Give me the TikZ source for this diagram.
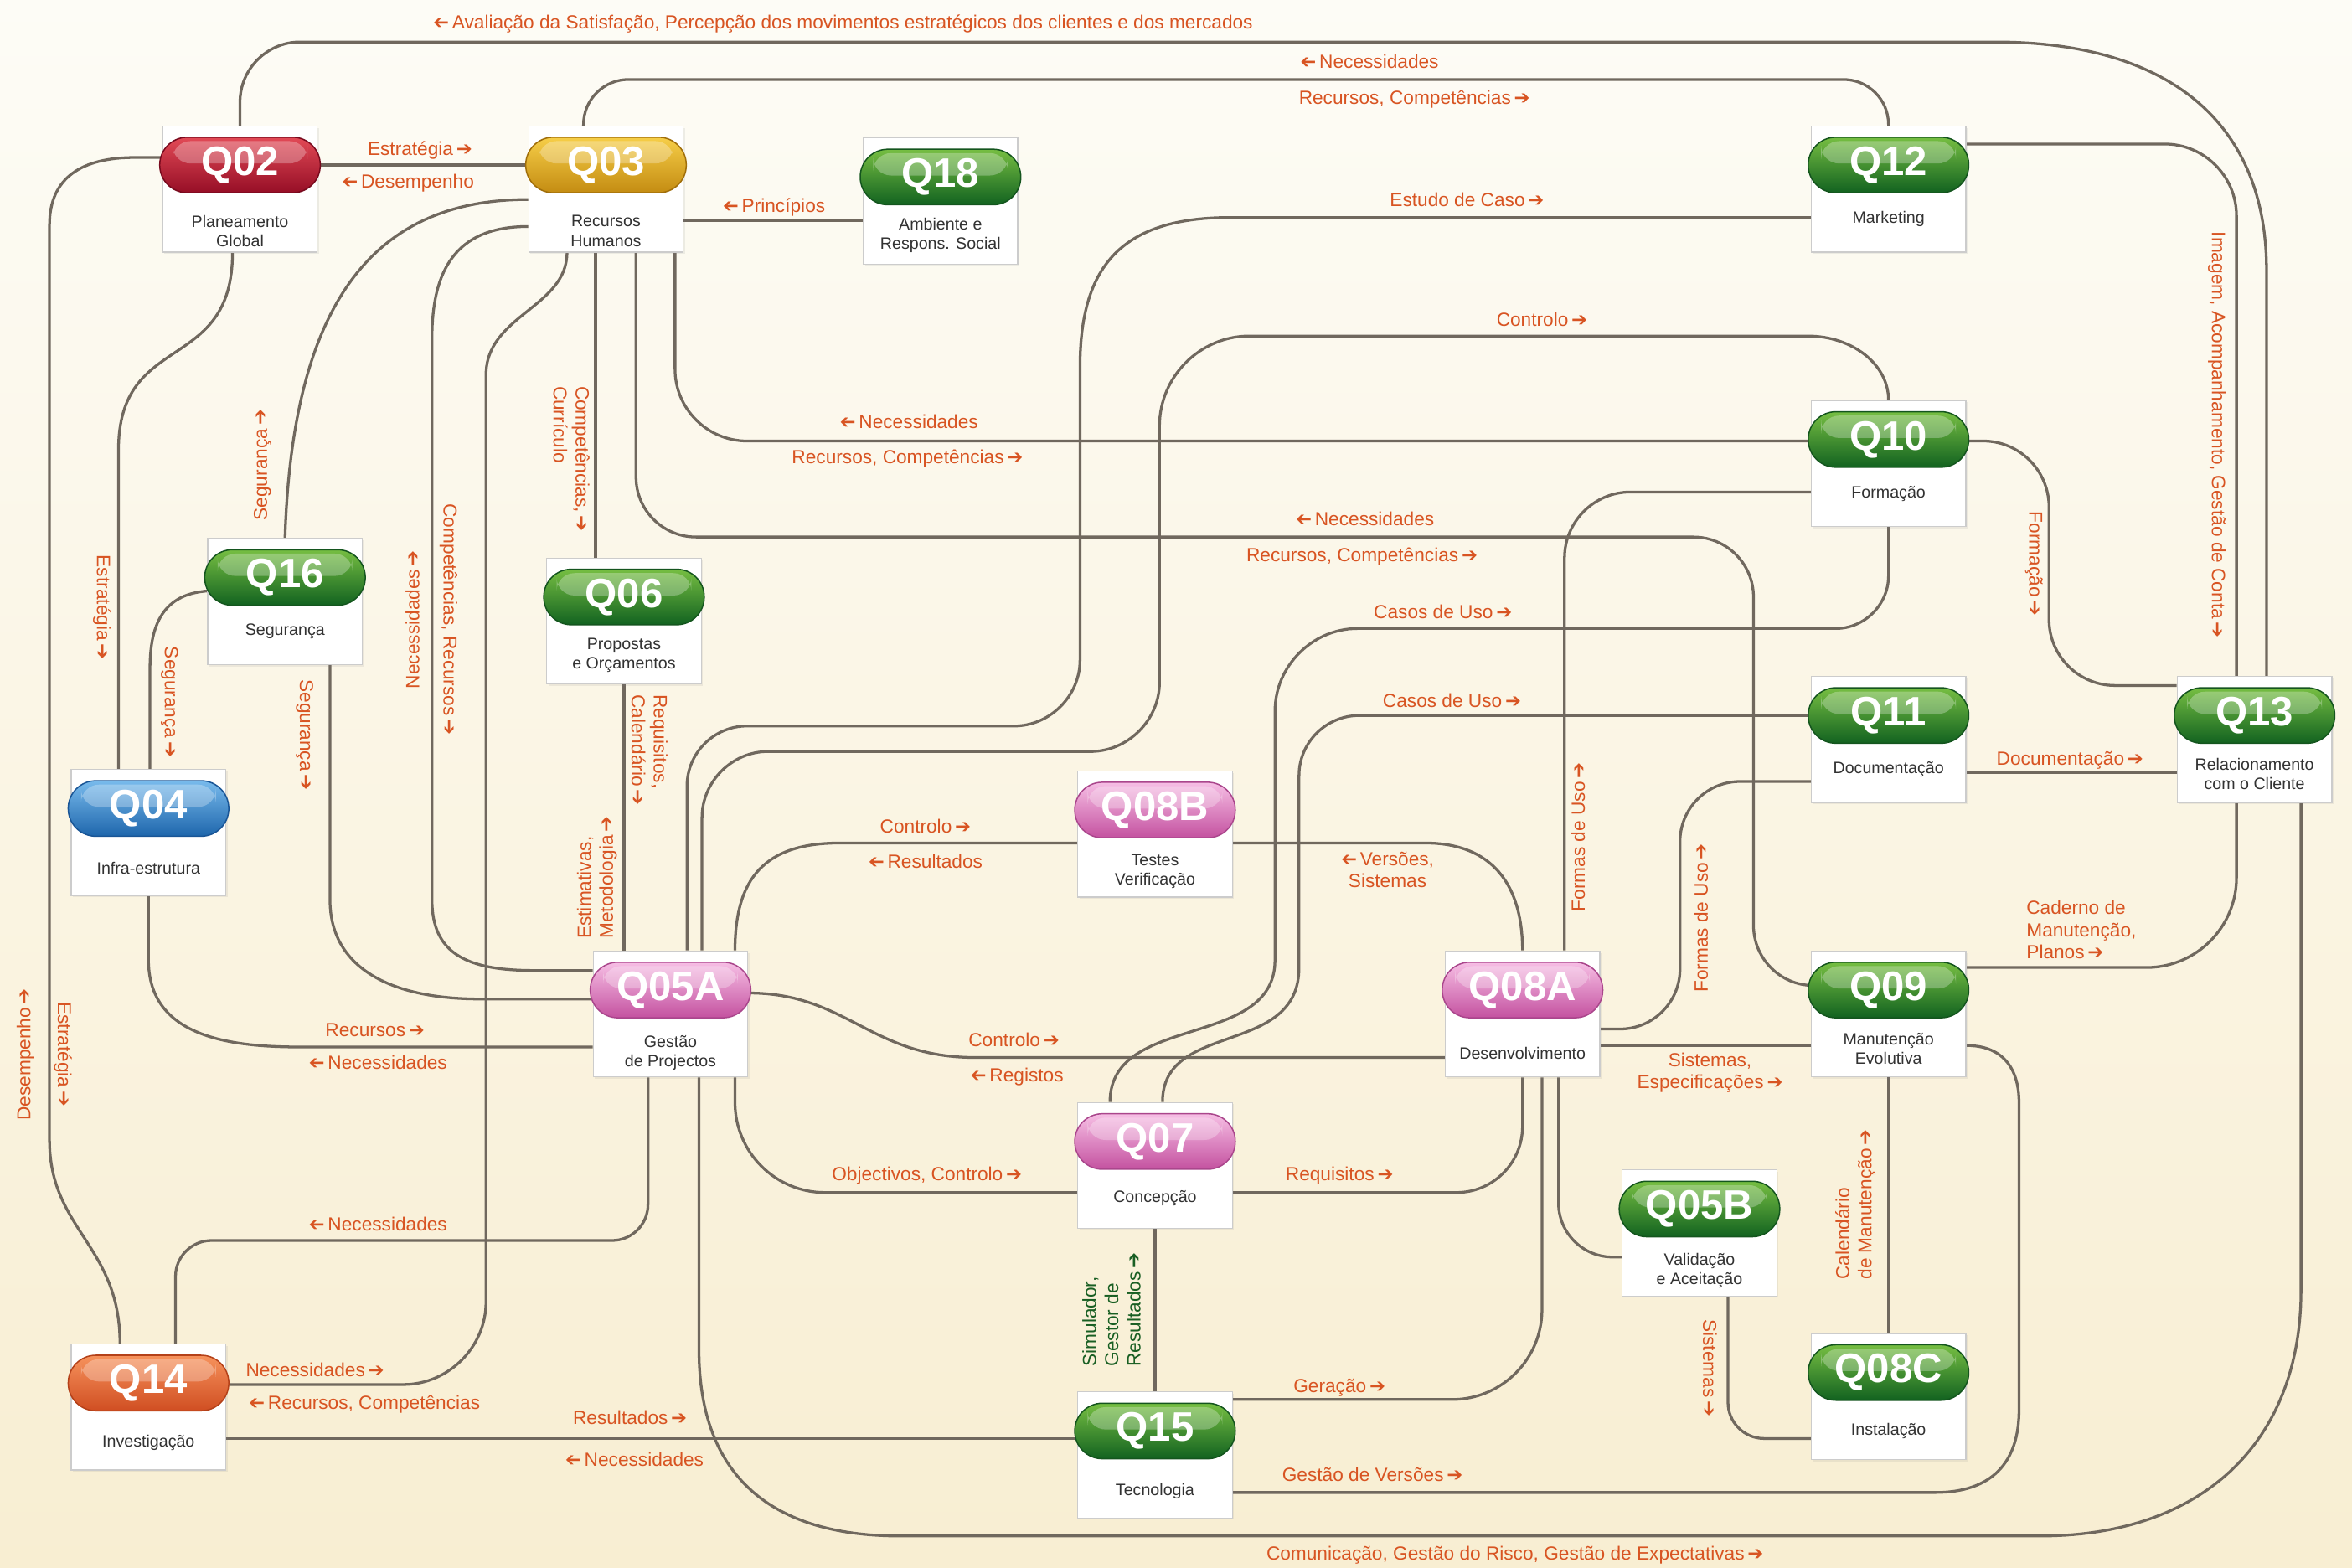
\documentclass[tikz,border=0pt]{standalone}
\usepackage{fontspec}
\setmainfont{Liberation Sans}
\newfontfamily\arrf{DejaVu Sans}
\usetikzlibrary{calc,shadows}
\definecolor{bgtop}{RGB}{253,252,246}
\definecolor{bgbot}{RGB}{248,238,210}
\definecolor{linec}{RGB}{112,104,94}
\definecolor{labc}{RGB}{216,84,34}
\definecolor{arrc}{RGB}{225,70,35}
\definecolor{simc}{RGB}{25,95,35}
\definecolor{boxtext}{RGB}{50,50,50}
\definecolor{pgT}{RGB}{118,190,66}\definecolor{pgB}{RGB}{18,98,32}\definecolor{pgD}{RGB}{20,85,30}
\definecolor{prT}{RGB}{226,74,86}\definecolor{prB}{RGB}{150,14,38}\definecolor{prD}{RGB}{120,10,30}
\definecolor{pyT}{RGB}{246,206,72}\definecolor{pyB}{RGB}{196,140,18}\definecolor{pyD}{RGB}{160,110,10}
\definecolor{pbT}{RGB}{120,186,236}\definecolor{pbB}{RGB}{30,102,172}\definecolor{pbD}{RGB}{25,85,150}
\definecolor{ppT}{RGB}{246,190,228}\definecolor{ppB}{RGB}{196,82,160}\definecolor{ppD}{RGB}{170,70,140}
\definecolor{poT}{RGB}{246,146,92}\definecolor{poB}{RGB}{208,78,34}\definecolor{poD}{RGB}{180,65,25}
\newcommand\ra{\,{\arrf ➔}}
\newcommand\la{\reflectbox{\arrf ➔}\,}
\newcommand\lblf{\fontsize{9}{10.5}\selectfont}
\pgfdeclarelayer{bglayer}
\pgfdeclarelayer{linelayer}
\pgfsetlayers{bglayer,linelayer,main}
\tikzset{
 qbox/.style={draw=black!20, line width=0.5pt, fill=white, minimum width=2.575cm, minimum height=2.1cm, inner sep=0pt,
   drop shadow={opacity=0.12,shadow xshift=0.03cm,shadow yshift=-0.03cm}},
 pill/.style={minimum width=2.675cm, minimum height=0.925cm, rounded corners=0.46cm, inner sep=0pt, text=white,
   font=\fontsize{19.5}{20}\selectfont\bfseries, line width=0.6pt},
 pgreen/.style={top color=pgT, bottom color=pgB, draw=pgD},
 pred/.style={top color=prT, bottom color=prB, draw=prD},
 pgold/.style={top color=pyT, bottom color=pyB, draw=pyD},
 pblue/.style={top color=pbT, bottom color=pbB, draw=pbD},
 ppink/.style={top color=ppT, bottom color=ppB, draw=ppD},
 porange/.style={top color=poT, bottom color=poB, draw=poD},
 qlab/.style={font=\fontsize{7.8}{9.3}\selectfont, text=boxtext, align=center, inner sep=0pt},
 lbl/.style={font=\lblf, text=labc, align=center, inner sep=0.5pt},
 conn/.style={draw=linec, line width=1.3pt},
}
\newcommand\qnode[7]{%
  \node[qbox] (#1) at (#2,#3+16) {};
  \node[pill,#4] (#1p) at (#2,#3) {#5};
  \fill[white,opacity=0.28,rounded corners=0.3cm] ($(#1p.north west)+(9,3)$) rectangle ($(#1p.east)+(-9,-1)$);
  \node[qlab] (#1l) at (#2,#3+#7) {#6};
}
\begin{document}
\begin{tikzpicture}[x=0.025cm,y=-0.025cm]
\useasboundingbox (0,0) rectangle (1568,1045);
\begin{pgfonlayer}{bglayer}
\shade[top color=bgtop, bottom color=bgbot] (0,0) rectangle (1568,1045);
\end{pgfonlayer}

% ---------- nodes ----------
\qnode{q02}{160}{110}{pred}{Q02}{Planeamento\\Global}{44}
\qnode{q03}{404}{110}{pgold}{Q03}{Recursos\\Humanos}{44}
\qnode{q18}{627}{118}{pgreen}{Q18}{Ambiente e\\Respons. Social}{39}
\qnode{q12}{1259}{110}{pgreen}{Q12}{Marketing}{36}
\qnode{q16}{190}{385}{pgreen}{Q16}{Segurança}{36}
\qnode{q06}{416}{398}{pgreen}{Q06}{Propostas\\e Orçamentos}{39}
\qnode{q04}{99}{539}{pblue}{Q04}{Infra-estrutura}{40}
\qnode{q10}{1259}{293}{pgreen}{Q10}{Formação}{36}
\qnode{q11}{1259}{477}{pgreen}{Q11}{Documentação}{36}
\qnode{q13}{1503}{477}{pgreen}{Q13}{Relacionamento\\com o Cliente}{39}
\qnode{q08b}{770}{540}{ppink}{Q08B}{Testes\\Verificação}{41}
\qnode{q05a}{447}{660}{ppink}{Q05A}{Gestão\\de Projectos}{42}
\qnode{q08a}{1015}{660}{ppink}{Q08A}{Desenvolvimento}{42}
\qnode{q09}{1259}{660}{pgreen}{Q09}{Manutenção\\Evolutiva}{39}
\qnode{q07}{770}{761}{ppink}{Q07}{Concepção}{38}
\qnode{q05b}{1133}{806}{pgreen}{Q05B}{Validação\\e Aceitação}{41}
\qnode{q14}{99}{922}{porange}{Q14}{Investigação}{40}
\qnode{q15}{770}{954}{pgreen}{Q15}{Tecnologia}{40}
\qnode{q08c}{1259}{915}{pgreen}{Q08C}{Instalação}{39}

% ---------- connectors ----------
\begin{pgfonlayer}{linelayer}
\draw[conn] (q02.north) -- (160,68) .. controls (160,46) and (178,28) .. (200,28) -- (1330,28) .. controls (1450,28) and (1511,85) .. (1511,180) -- ($(q13.north)+(8,0)$);
\draw[conn] ($(q12.west)+(0,19)$) -- (820,145) .. controls (745,145) and (720,180) .. (720,245) -- (720,440) .. controls (720,464) and (700,484) .. (676,484) -- (498,484) .. controls (476,484) and (458,502) .. (458,524) -- ($(q05a.north)+(11,0)$);
\draw[conn] (q10.north) .. controls (1259,243) and (1235,224) .. (1205,224) -- (833,224) .. controls (800,224) and (773,251) .. (773,284) -- (773,455) .. controls (773,480) and (752,501) .. (727,501) -- (512,501) .. controls (488,501) and (468,521) .. (468,545) -- ($(q05a.north)+(21,0)$);
\draw[conn] (q10.south) -- (1259,384) .. controls (1259,403) and (1243,419) .. (1224,419) -- (905,419) .. controls (875,419) and (850,444) .. (850,474) -- (850,640) .. controls (850,700) and (740,675) .. ($(q07.north)+(-30,0)$);
\draw[conn] ($(q11.west)+(0,-16)$) -- (906,477) .. controls (884,477) and (866,495) .. (866,517) -- (866,645) .. controls (866,705) and (775,680) .. ($(q07.north)+(5,0)$);
\draw[conn] ($(q05a.south)+(19,0)$) -- (466,900) .. controls (466,985) and (515,1024) .. (600,1024) -- (1360,1024) .. controls (1470,1024) and (1534,960) .. (1534,860) -- ($(q13.south)+(31,0)$);
\draw[conn] ($(q15.east)+(0,25)$) -- (1290,995) .. controls (1328,995) and (1346,975) .. (1346,940) -- (1346,735) .. controls (1346,712) and (1335,697) .. ($(q09.east)+(0,21)$);
\draw[conn] ($(q05a.east)+(0,-14)$) .. controls (565,662) and (580,705) .. (650,705) -- ($(q08a.west)+(0,29)$);
\draw[conn] ($(q05a.north)+(43,0)$) .. controls (490,585) and (510,562) .. (560,562) -- ($(q08b.west)+(0,6)$);
\draw[conn] ($(q08b.east)+(0,6)$) -- (950,562) .. controls (995,562) and (1015,590) .. (q08a.north);
\draw[conn] ($(q03.south)+(-26,0)$) .. controls (378,205) and (324,210) .. (324,250) -- (324,868) .. controls (324,898) and (299,923) .. (269,923) -- ($(q14.east)+(0,-15)$);
\draw[conn] ($(q14.north)+(-19,0)$) .. controls (80,830) and (33,820) .. (33,760) -- (33,150) .. controls (33,118) and (55,105) .. (90,105) -- ($(q02.west)+(0,-21)$);
\draw[conn] ($(q02.south)+(-5,0)$) .. controls (155,250) and (79,220) .. (79,300) -- ($(q04.north)+(-20,0)$);
\draw[conn] ($(q16.west)+(0,-7)$) .. controls (112,396) and (100,412) .. (100,445) -- ($(q04.north)+(1,0)$);
\draw[conn] (q16.north) .. controls (195,200) and (250,133) .. ($(q03.west)+(0,7)$);
\draw[conn] ($(q16.south)+(30,0)$) -- (220,600) .. controls (220,645) and (260,666) .. (320,666) -- ($(q05a.west)+(0,-10)$);
\draw[conn] ($(q03.west)+(0,25)$) .. controls (308,151) and (288,175) .. (288,225) -- (288,600) .. controls (288,635) and (310,647) .. (356,647) -- ($(q05a.west)+(0,-29)$);
\draw[conn] (q04.south) -- (99,640) .. controls (99,690) and (150,698) .. (200,698) -- ($(q05a.west)+(0,22)$);
\draw[conn,rounded corners=0.75cm] ($(q03.north)+(-15,0)$) -- (389,53) -- (1259,53) -- (q12.north);
\draw[conn] ($(q02.east)+(0,-16)$) -- ($(q03.west)+(0,-16)$);
\draw[conn] ($(q18.west)+(0,13)$) -- ($(q03.east)+(0,21)$);
\draw[conn,rounded corners=1.2cm] ($(q12.east)+(0,-30)$) -- (1491,96) -- ($(q13.north)+(-12,0)$);
\draw[conn,rounded corners=1.2cm] ($(q03.south)+(46,0)$) -- (450,294) -- ($(q10.west)+(0,-15)$);
\draw[conn,rounded corners=1cm] ($(q03.south)+(20,0)$) -- (424,358) -- (1169,358) -- (1169,657) -- ($(q09.west)+(0,-19)$);
\draw[conn,rounded corners=1.1cm] ($(q10.east)+(0,-15)$) -- (1366,294) -- (1366,457) -- ($(q13.west)+(0,-36)$);
\draw[conn] ($(q11.east)+(0,22)$) -- ($(q13.west)+(0,22)$);
\draw[conn,rounded corners=1.5cm] ($(q09.east)+(0,-31)$) -- (1491,645) -- ($(q13.south)+(-12,0)$);
\draw[conn] (q15.north) -- (q07.south);
\draw[conn,rounded corners=1.5cm] ($(q15.east)+(0,-37)$) -- (1028,933) -- ($(q08a.south)+(13,0)$);
\draw[conn,rounded corners=1.1cm] ($(q07.east)+(0,18)$) -- (1015,795) -- (q08a.south);
\draw[conn,rounded corners=1.5cm] ($(q05a.south)+(43,0)$) -- (490,795) -- ($(q07.west)+(0,18)$);
\draw[conn,rounded corners=1.1cm] ($(q08a.north)+(28,0)$) -- (1043,328) -- ($(q10.west)+(0,19)$);
\draw[conn,rounded corners=1cm] ($(q11.west)+(0,28)$) -- (1120,521) -- (1120,686) -- ($(q08a.east)+(0,10)$);
\draw[conn] ($(q08a.east)+(0,21)$) -- ($(q09.west)+(0,21)$);
\draw[conn,rounded corners=0.9cm] ($(q08a.south)+(24,0)$) -- (1039,838) -- ($(q05b.west)+(0,16)$);
\draw[conn] (q09.south) -- (q08c.north);
\draw[conn,rounded corners=0.6cm] ($(q05b.south)+(19,0)$) -- (1152,959) -- ($(q08c.west)+(0,28)$);
\draw[conn] ($(q14.east)+(0,21)$) -- ($(q15.west)+(0,-11)$);
\draw[conn] ($(q03.south)+(-7,0)$) -- ($(q06.north)+(-19,0)$);
\draw[conn] (q06.south) -- ($(q05a.north)+(-31,0)$);
\draw[conn,rounded corners=0.6cm] ($(q05a.south)+(-15,0)$) -- (432,827) -- (117,827) -- ($(q14.north)+(18,0)$);
\end{pgfonlayer}

% ---------- labels ----------
\node[lbl] (t1) at (562,16) {\la Avaliação da Satisfação, Percepção dos movimentos estratégicos dos clientes e dos mercados};
\node[lbl] (t2) at (913,41) {\la Necessidades};
\node[lbl] (t3) at (943,66) {Recursos, Competências\ra};
\node[lbl] (t4) at (280,100) {Estratégia\ra};
\node[lbl] (t5) at (272,122) {\la Desempenho};
\node[lbl] (t6) at (516,138) {\la Princípios};
\node[lbl] (t7) at (978,133) {Estudo de Caso\ra};
\node[lbl] (t8) at (1028,213) {Controlo\ra};
\node[lbl] (t9) at (606,281) {\la Necessidades};
\node[lbl] (t10) at (605,306) {Recursos, Competências\ra};
\node[lbl] (t11) at (910,346) {\la Necessidades};
\node[lbl] (t12) at (908,371) {Recursos, Competências\ra};
\node[lbl] (t13) at (962,408) {Casos de Uso\ra};
\node[lbl] (t14) at (968,467) {Casos de Uso\ra};
\node[lbl] (t15) at (1380,507) {Documentação\ra};
\node[lbl] (t16) at (617,551) {Controlo\ra};
\node[lbl] (t17) at (617,574) {\la Resultados};
\node[lbl] (t18) at (925,580) {\la Versões,\\Sistemas};
\node[lbl,align=left,anchor=west] (t19) at (1350,620) {Caderno de\\Manutenção,\\Planos\ra};
\node[lbl] (t20) at (250,687) {Recursos\ra};
\node[lbl] (t21) at (252,708) {\la Necessidades};
\node[lbl] (t22) at (676,693) {Controlo\ra};
\node[lbl] (t23) at (678,718) {\la Registos};
\node[lbl] (t24) at (1140,715) {Sistemas,\\Especificações\ra};
\node[lbl] (t25) at (618,784) {Objectivos, Controlo\ra};
\node[lbl] (t26) at (893,784) {Requisitos\ra};
\node[lbl] (t27) at (252,816) {\la Necessidades};
\node[lbl] (t28) at (210,913) {Necessidades\ra};
\node[lbl] (t29) at (243,936) {\la Recursos, Competências};
\node[lbl] (t30) at (420,945) {Resultados\ra};
\node[lbl] (t31) at (423,973) {\la Necessidades};
\node[lbl] (t32) at (893,925) {Geração\ra};
\node[lbl] (t33) at (915,983) {Gestão de Versões\ra};
\node[lbl] (t34) at (1010,1037) {Comunicação, Gestão do Risco, Gestão de Expectativas\ra};
\node[lbl,rotate=-90] (t35) at (1478,290) {Imagem, Acompanhamento, Gestão de Conta\ra};
\node[lbl,rotate=-90] (t36) at (1356,376) {Formação\ra};
\node[lbl,rotate=90] (t37) at (175,310) {Segurança\ra};
\node[lbl,rotate=-90] (t38) at (68,405) {Estratégia\ra};
\node[lbl,rotate=-90] (t39) at (113,468) {Segurança\ra};
\node[lbl,rotate=-90] (t40) at (203,490) {Segurança\ra};
\node[lbl,rotate=90] (t41) at (275,413) {Necessidades\ra};
\node[lbl,rotate=-90] (t42) at (299,413) {Competências, Recursos\ra};
\node[lbl,rotate=-90,align=left] (t43) at (381,306) {Competências,\ra\\Currículo};
\node[lbl,rotate=-90,align=left] (t44) at (433,500) {Requisitos,\\Calendário\ra};
\node[lbl,rotate=90,align=left] (t45) at (398,585) {Estimativas,\\Metodologia\ra};
\node[lbl,rotate=90] (t46) at (1052,558) {Formas de Uso\ra};
\node[lbl,rotate=90] (t47) at (1134,612) {Formas de Uso\ra};
\node[lbl,rotate=90] (t48) at (17,703) {Desempenho\ra};
\node[lbl,rotate=-90] (t49) at (42,703) {Estratégia\ra};
\node[lbl,rotate=90,align=left] (t50) at (1237,803) {Calendário\\de Manutenção\ra};
\node[lbl,rotate=-90] (t51) at (1140,912) {Sistemas\ra};
\node[lbl,rotate=90,align=left,text=simc] (t52) at (741,873) {Simulador,\\Gestor de\\Resultados\ra};
\end{tikzpicture}
\end{document}
